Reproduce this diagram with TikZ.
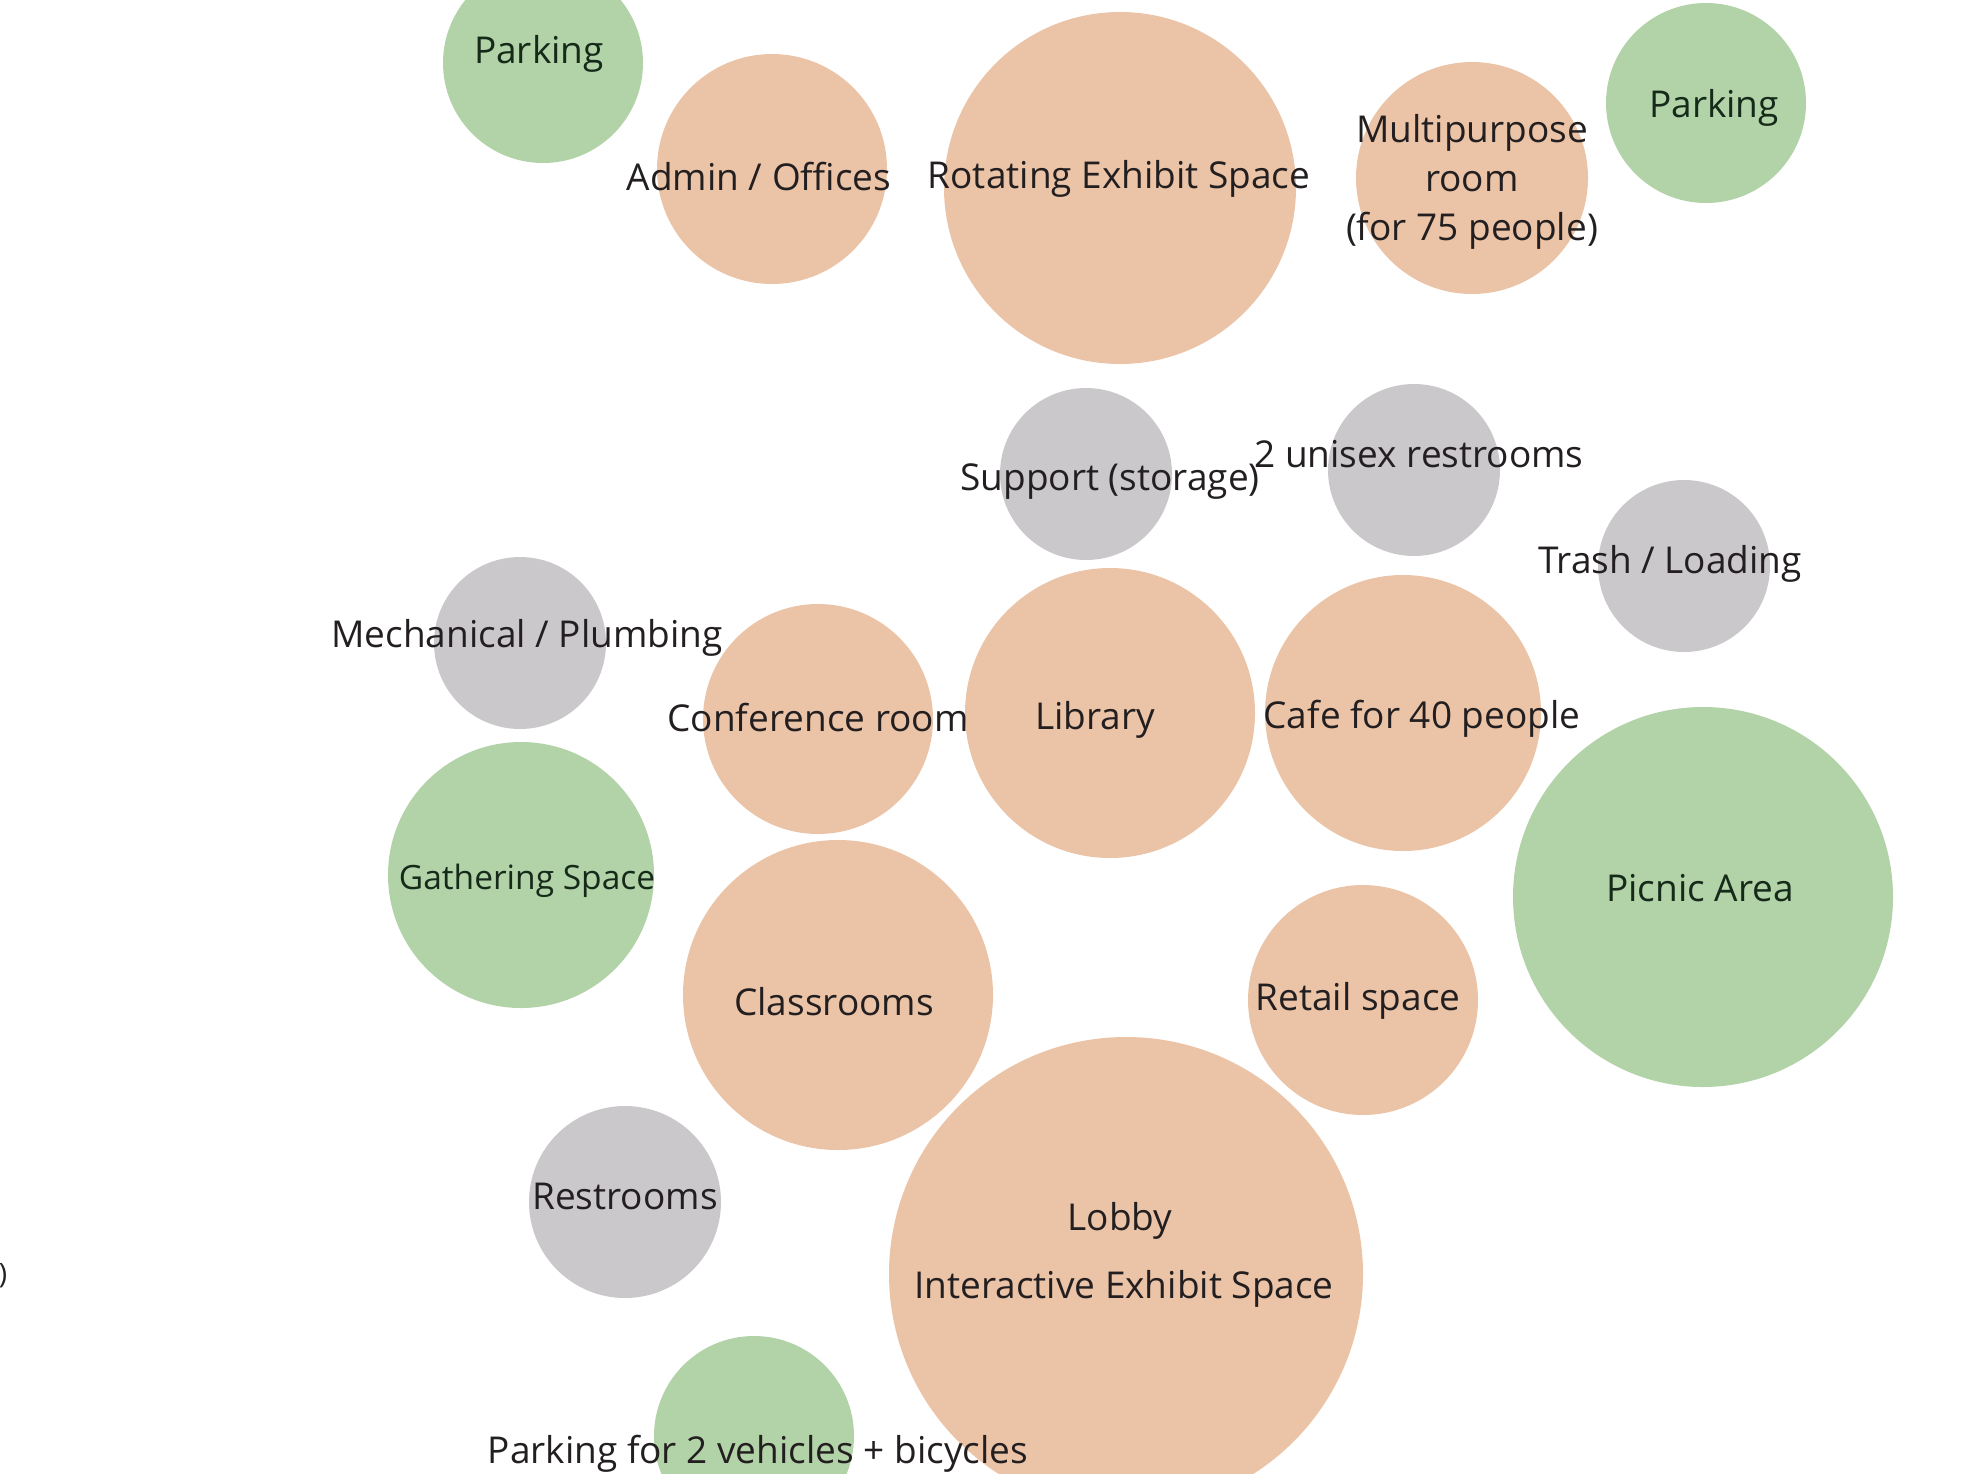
\documentclass[tikz,border=0pt]{standalone}
\usepackage{fontspec}
\setmainfont{Open Sans}
\usetikzlibrary{positioning}
\definecolor{roomPeach}{RGB}{235,196,168}
\definecolor{siteGreen}{RGB}{178,210,168}
\definecolor{serviceGray}{RGB}{203,200,204}
\definecolor{labelInk}{RGB}{35,31,32}
\definecolor{greenInk}{RGB}{22,42,26}

\tikzset{
  bubble/.style={circle, inner sep=0pt, minimum size=2*#1pt},
  room/.style={bubble=#1, fill=roomPeach},
  site/.style={bubble=#1, fill=siteGreen},
  service/.style={bubble=#1, fill=serviceGray},
  tag/.style={font=\fontsize{37}{49}\selectfont, text=labelInk, inner sep=0pt, align=center},
  sitetag/.style={tag, text=greenInk}
}

\begin{document}
\begin{tikzpicture}[x=1pt, y=-1pt]
  \useasboundingbox (0,0) rectangle (1964,1473);
  \clip (0,0) rectangle (1964,1473);

  % Outdoor / site bubbles
  \node[site=100] (parkNW) at (543,63) {};
  \node[site=100] (parkNE) at (1706,103) {};
  \node[site=190] (picnic) at (1703,897) {};
  \node[site=133] (gather) at (521,875) {};
  \node[site=100] (parkS) at (754,1436) {};

  % Service bubbles
  \node[service=86] (storage) at (1086,474) {};
  \node[service=86] (unisex) at (1414,470) {};
  \node[service=86] (trash) at (1684,566) {};
  \node[service=86] (mech) at (520,643) {};
  \node[service=96] (wc) at (625,1202) {};

  % Program rooms
  \node[room=115] (admin) at (772,169) {};
  \node[room=176] (rotating) at (1120,188) {};
  \node[room=116] (multi) at (1472,178) {};
  \node[room=115] (conf) at (818,719) {};
  \node[room=145] (library) at (1110,713) {};
  \node[room=138] (cafe) at (1403,713) {};
  \node[room=155] (class) at (838,995) {};
  \node[room=115] (retail) at (1363,1000) {};
  \node[room=237] (lobby) at (1126,1274) {};

  % Labels
  \node[sitetag] (parkNWtxt) at (539,54) {Parking};
  \node[sitetag] (parkNEtxt) at (1714,108) {Parking};
  \node[sitetag] (picnictxt) at (1700,888) {Picnic Area};
  \node[sitetag, font=\fontsize{33.5}{40}\selectfont] (gathertxt) at (527,881) {Gathering Space};
  \node[tag] (parkStxt) at (758,1454) {Parking for 2 vehicles + bicycles};

  \node[tag] (storagetxt) at (1110,482) {Support (storage)};
  \node[tag] (unisextxt) at (1419,454) {2 unisex restrooms};
  \node[tag] (trashtxt) at (1670,564) {Trash / Loading};
  \node[tag] (mechtxt) at (527,638) {Mechanical / Plumbing};
  \node[tag] (wctxt) at (625,1196) {Restrooms};

  \node[tag] (admintxt) at (759,177) {Admin / Offices};
  \node[tag] (rotatingtxt) at (1119,179) {Rotating Exhibit Space};
  \node[tag] (multitxt) at (1472,182) {Multipurpose\\room\\(for 75 people)};
  \node[tag] (conftxt) at (818,718) {Conference room};
  \node[tag] (librarytxt) at (1095,720) {Library};
  \node[tag] (cafetxt) at (1422,719) {Cafe for 40 people};
  \node[tag] (classtxt) at (834,1002) {Classrooms};
  \node[tag] (retailtxt) at (1358,1001) {Retail space};
  \node[tag] (lobbytxt) at (1120,1221) {Lobby};
  \node[tag] (interactivetxt) at (1124,1289) {Interactive Exhibit Space};

  \node[tag, font=\fontsize{28}{30}\selectfont] (stray) at (3,1276) {)};
\end{tikzpicture}
\end{document}
